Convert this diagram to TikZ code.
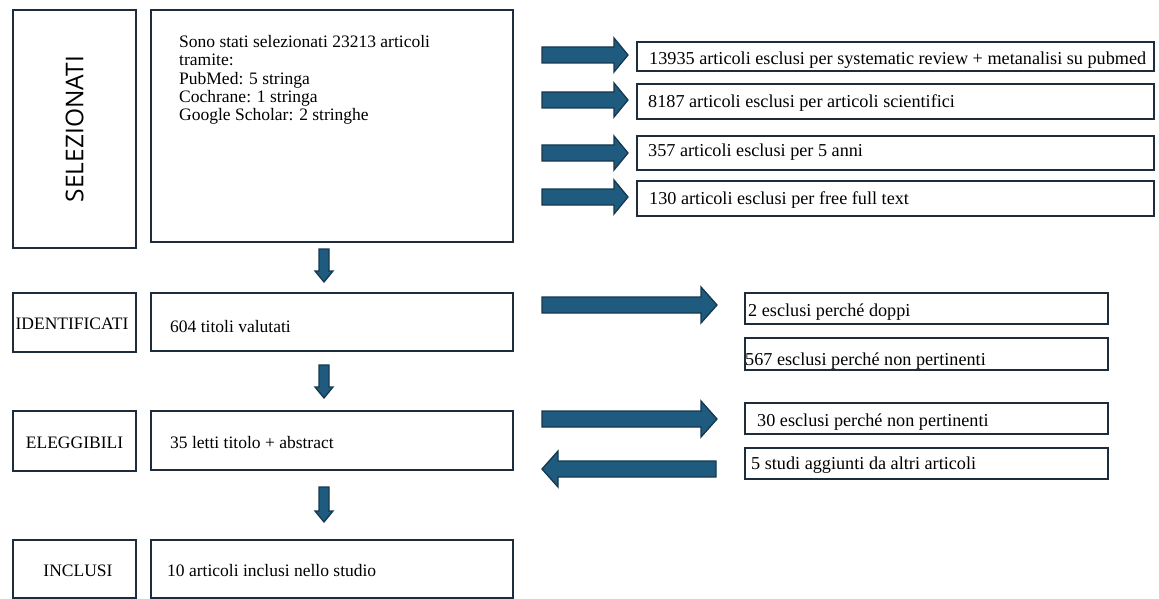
\documentclass[tikz,border=0pt]{standalone}
\usepackage{fontspec}
\setmainfont{Liberation Serif}
\newfontfamily\opensans{Open Sans}
\definecolor{boxline}{HTML}{1E2D3B}
\definecolor{arrfill}{HTML}{1F5B7E}
\definecolor{arrline}{HTML}{15384F}
\tikzset{
  box/.style={draw=boxline, line width=2.2pt, fill=white, inner sep=0pt, anchor=north west},
  barrow/.style={fill=arrfill, draw=arrline, line width=1.3pt, line join=miter},
  lbl/.style={inner sep=0pt, anchor=base, font=\fontsize{17.5}{18.3}\selectfont},
  maintxt/.style={inner sep=0pt, anchor=base west, font=\fontsize{17.5}{18.3}\selectfont},
  rtxt/.style={inner sep=0pt, anchor=base west, font=\fontsize{18.2}{20}\selectfont}
}
% right-pointing block arrow: x1, x2 (tip), yc, shaft half, head half, head length
\newcommand\blkarrR[6]{\filldraw[barrow] (#1,#3-#4) -- (#2-#6,#3-#4) -- (#2-#6,#3-#5) -- (#2,#3) -- (#2-#6,#3+#5) -- (#2-#6,#3+#4) -- (#1,#3+#4) -- cycle;}
% left-pointing block arrow: x1 (tip), x2, yc, shaft half, head half, head length
\newcommand\blkarrL[6]{\filldraw[barrow] (#2,#3-#4) -- (#1+#6,#3-#4) -- (#1+#6,#3-#5) -- (#1,#3) -- (#1+#6,#3+#5) -- (#1+#6,#3+#4) -- (#2,#3+#4) -- cycle;}
% down block arrow: xc, y1, y2 (tip), shaft half, head half, head length
\newcommand\blkarrD[6]{\filldraw[barrow] (#1-#4,#2) -- (#1-#4,#3-#6) -- (#1-#5,#3-#6) -- (#1,#3) -- (#1+#5,#3-#6) -- (#1+#4,#3-#6) -- (#1+#4,#2) -- cycle;}
\begin{document}
\begin{tikzpicture}[x=1pt, y=-1pt]
\useasboundingbox (0,0) rectangle (1159,599);
\fill[white] (0,0) rectangle (1159,599);

% left column
\node[box, minimum width=123pt, minimum height=238pt] (sel) at (12,9) {};
\node[rotate=90, inner sep=0pt, font=\opensans\fontsize{24.5}{28}\selectfont] (selt) at (sel.center) {SELEZIONATI};
\node[box, minimum width=123pt, minimum height=59pt] (ide) at (12,292) {};
\node[lbl] (idet) at (72,329) {IDENTIFICATI};
\node[box, minimum width=123pt, minimum height=60pt] (ele) at (12,410) {};
\node[lbl] (elet) at (74.5,448) {ELEGGIBILI};
\node[box, minimum width=123pt, minimum height=58pt] (inc) at (12,539) {};
\node[lbl] (inct) at (78,576) {INCLUSI};

% main column
\node[box, minimum width=362pt, minimum height=232pt] (m1) at (150,9) {};
\node[inner sep=0pt, anchor=north west, align=left, font=\fontsize{17.5}{18.3}\selectfont] (m1t) at (179,35.3)
  {Sono stati selezionati 23213 articoli\\tramite:\\PubMed: 5 stringa\\Cochrane: 1 stringa\\Google Scholar: 2 stringhe};
\node[box, minimum width=362pt, minimum height=58pt] (m2) at (150,292) {};
\node[maintxt] (m2t) at (170,332) {604 titoli valutati};
\node[box, minimum width=362pt, minimum height=59pt] (m3) at (150,410) {};
\node[maintxt] (m3t) at (170,448) {35 letti titolo + abstract};
\node[box, minimum width=362pt, minimum height=58pt] (m4) at (150,539) {};
\node[maintxt] (m4t) at (167,576) {10 articoli inclusi nello studio};

% top right boxes
\node[box, minimum width=517pt, minimum height=29pt] (r1) at (636,41) {};
\node[rtxt] (r1t) at (649,64.5) {13935 articoli esclusi per systematic review + metanalisi su pubmed};
\node[box, minimum width=517pt, minimum height=35pt] (r2) at (636,83) {};
\node[rtxt] (r2t) at (648,107.5) {8187 articoli esclusi per articoli scientifici};
\node[box, minimum width=517pt, minimum height=34pt] (r3) at (636,135) {};
\node[rtxt] (r3t) at (648,157) {357 articoli esclusi per 5 anni};
\node[box, minimum width=517pt, minimum height=35pt] (r4) at (636,180) {};
\node[rtxt] (r4t) at (649,204) {130 articoli esclusi per free full text};

% lower right boxes
\node[box, minimum width=363pt, minimum height=31pt] (s1) at (744,292) {};
\node[rtxt] (s1t) at (748,316.5) {2 esclusi perché doppi};
\node[box, minimum width=363pt, minimum height=32pt] (s2) at (744,337) {};
\node[rtxt] (s2t) at (745,365) {567 esclusi perché non pertinenti};
\node[box, minimum width=363pt, minimum height=31pt] (s3) at (744,402) {};
\node[rtxt] (s3t) at (757,426.5) {30 esclusi perché non pertinenti};
\node[box, minimum width=363pt, minimum height=31pt] (s4) at (744,447) {};
\node[rtxt] (s4t) at (751,469) {5 studi aggiunti da altri articoli};

% top right arrows
\blkarrR{542}{628}{55}{8}{17}{14}
\blkarrR{542}{628}{100}{8}{17}{14}
\blkarrR{542}{628}{153}{8}{17}{14}
\blkarrR{542}{628}{197}{8}{17}{14}

% lower arrows
\blkarrR{542}{717}{305}{8}{18}{16}
\blkarrR{542}{717}{419}{8}{18}{16}
\blkarrL{542}{716}{469}{8}{18}{16}

% down arrows
\blkarrD{324}{249}{282}{5}{9}{11}
\blkarrD{324}{365}{398}{5}{9}{11}
\blkarrD{324}{487}{522}{5}{9}{11}
\end{tikzpicture}
\end{document}
